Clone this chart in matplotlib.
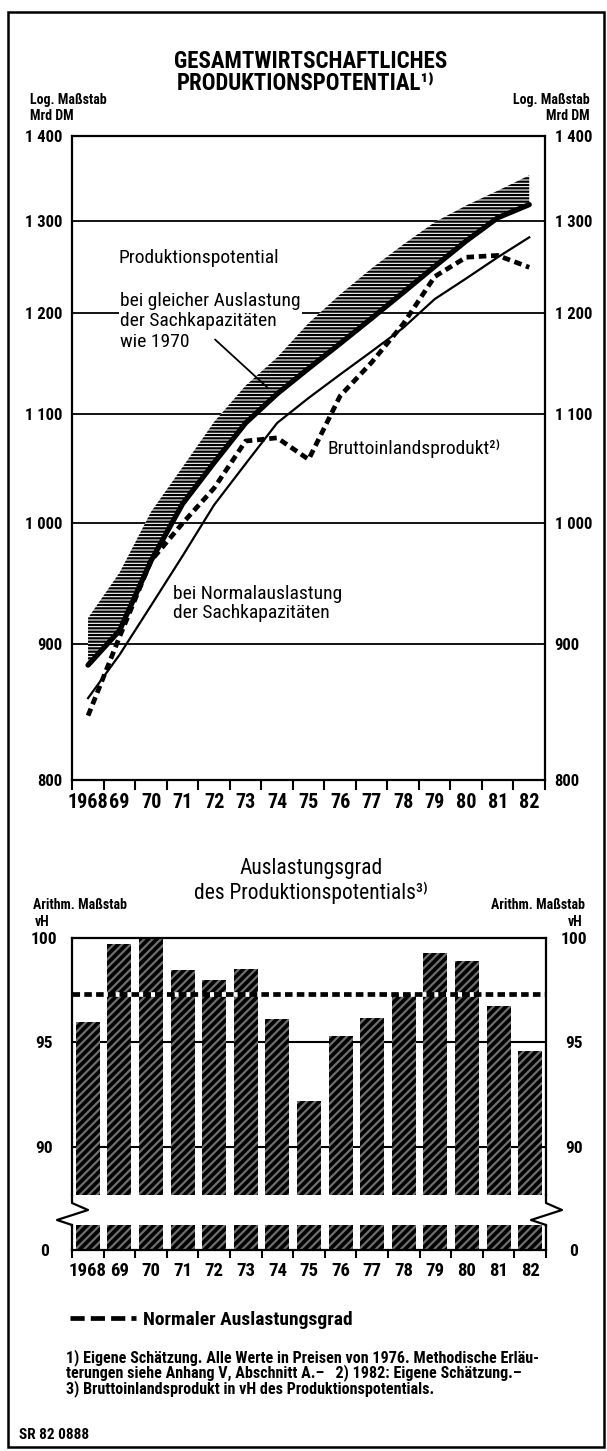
import numpy as np
import matplotlib.pyplot as plt
from matplotlib.lines import Line2D
from matplotlib.patches import Rectangle
from matplotlib.ticker import NullLocator, NullFormatter

plt.rcParams['font.family'] = ['Roboto Condensed', 'Archivo Narrow', 'PT Sans Narrow', 'DejaVu Sans']
plt.rcParams['hatch.linewidth'] = 1.6

# ---- data ----
years = ["1968", "69", "70", "71", "72", "73", "74", "75", "76", "77", "78", "79", "80", "81", "82"]

# Produktionspotential bei gleicher Auslastung wie 1970 (Mrd DM, thick line = lower edge of band)
pot_1970 = [884, 911, 968, 1017, 1054, 1091, 1119, 1144, 1169, 1195, 1222, 1250, 1278, 1304, 1319]
pot_1970_upper = [921, 958, 1010, 1050, 1092, 1127, 1155, 1190, 1220, 1248, 1274, 1299, 1318, 1335, 1353]
# Produktionspotential bei Normalauslastung
pot_normal = [859, 892, 931, 972, 1016, 1053, 1091, 1115, 1138, 1161, 1185, 1215, 1237, 1260, 1282]
# Bruttoinlandsprodukt
bip = [846, 906, 968, 1000, 1031, 1074, 1077, 1057, 1117, 1150, 1189, 1239, 1260, 1262, 1249]

# Auslastungsgrad in vH
auslastung = [96.0, 99.7, 100.0, 98.45, 98.0, 98.5, 96.1, 92.2, 95.3, 96.15, 97.3, 99.3, 98.9, 96.75, 94.6]
normal_grad = 97.3

top_ticks = [800, 900, 1000, 1100, 1200, 1300, 1400]
top_ticklabels = ["800", "900", "1 000", "1 100", "1 200", "1 300", "1 400"]
bar_ticks = [90, 95, 100]

W, H = 607, 1451
fig = plt.figure(figsize=(W / 100, H / 100), dpi=100)


def box(l, t, r, b):
    return [l / W, 1 - b / H, (r - l) / W, (b - t) / H]


def fpos(px, py):
    return px / W, 1 - py / H


x = np.arange(len(years))

# ================= top chart =================
ax1 = fig.add_axes(box(72.3, 136, 545, 780))
ax1.set_yscale('log')
ax1.set_xlim(-0.5, 14.5)
ax1.set_ylim(800, 1400)
for v in top_ticks[1:-1]:
    ax1.axhline(v, color='black', lw=1.3, zorder=1)

ax1.fill_between(x, pot_1970, pot_1970_upper, facecolor='white', edgecolor='black',
                 hatch='-----', lw=0, zorder=2)
ax1.plot(x, pot_1970, color='black', lw=3.8, solid_capstyle='round', zorder=3)
ax1.plot(x, pot_normal, color='black', lw=1.6, zorder=3)
ax1.plot(x, bip, color='black', lw=3.4, dashes=(1.6, 1.0), zorder=4)

ax1.set_yticks(top_ticks, labels=top_ticklabels)
ax1.yaxis.set_minor_locator(NullLocator())
ax1.yaxis.set_minor_formatter(NullFormatter())
ax1.tick_params(axis='y', length=0, labelright=True, labelsize=12, pad=7)
for lab in ax1.get_yticklabels():
    lab.set_fontweight('bold')

ax1.set_xticks(np.arange(-0.5, 15, 1))
ax1.set_xticklabels([])
ax1.set_xticks(x, minor=True)
ax1.set_xticklabels(years, minor=True, fontsize=14.5, fontweight='bold')
ax1.tick_params(axis='x', which='major', direction='out', length=7, width=1.5)
ax1.tick_params(axis='x', which='minor', length=0, pad=9)
for s in ax1.spines.values():
    s.set_linewidth(1.6)

ax1.text(0.097, 0.81, "Produktionspotential", transform=ax1.transAxes,
         fontsize=14, va='center', ha='left')
ax1.text(0.101, 0.712, "bei gleicher Auslastung\nder Sachkapazitäten\nwie 1970",
         transform=ax1.transAxes, fontsize=14, va='center', ha='left', linespacing=1.15,
         bbox=dict(facecolor='white', edgecolor='none', pad=1), zorder=1.5)
ax1.annotate('', xy=(0.412, 0.61), xytext=(0.302, 0.684), xycoords='axes fraction',
             arrowprops=dict(arrowstyle='-', lw=1.3, color='black', shrinkA=0, shrinkB=0),
             zorder=2.5)
ax1.text(0.539, 0.515, "Bruttoinlandsprodukt²⁾", transform=ax1.transAxes,
         fontsize=14, va='center', ha='left')
ax1.text(0.213, 0.274, "bei Normalauslastung\nder Sachkapazitäten", transform=ax1.transAxes,
         fontsize=14, va='center', ha='left', linespacing=1.1)

fig.text(*fpos(311, 62), "GESAMTWIRTSCHAFTLICHES", fontsize=16.5, fontweight='bold',
         ha='center', va='center')
fig.text(*fpos(306, 83), "PRODUKTIONSPOTENTIAL¹⁾", fontsize=16.5, fontweight='bold',
         ha='center', va='center')
fig.text(*fpos(30, 100), "Log. Maßstab", fontsize=10, fontweight='bold', ha='left', va='center')
fig.text(*fpos(30, 116), "Mrd DM", fontsize=10, fontweight='bold', ha='left', va='center')
fig.text(*fpos(590, 100), "Log. Maßstab", fontsize=10, fontweight='bold', ha='right', va='center')
fig.text(*fpos(590, 116), "Mrd DM", fontsize=10, fontweight='bold', ha='right', va='center')

# ================= bottom chart (broken axis) =================
ax2 = fig.add_axes(box(72, 938, 546, 1195))
ax3 = fig.add_axes(box(72, 1225, 546, 1250))
for ax in (ax2, ax3):
    ax.set_xlim(-0.5, 14.5)
    ax.bar(x, auslastung, width=0.76, color='black', zorder=2)
    ax.bar(x, auslastung, width=0.76, facecolor='none', edgecolor='#6e6e6e',
           hatch='////', lw=0, zorder=2)
    for s in ax.spines.values():
        s.set_linewidth(1.6)

ax2.set_ylim(87.7, 100)
for v in bar_ticks[:-1]:
    ax2.axhline(v, color='black', lw=1.5, zorder=1)
ax2.axhline(normal_grad, color='black', lw=3.4, dashes=(1.6, 0.9), gapcolor='white', zorder=3)
ax2.spines['bottom'].set_visible(False)
ax2.set_xticks([])
ax2.set_yticks(bar_ticks)
ax2.tick_params(axis='y', length=0, labelright=True, labelsize=12.5, pad=20)
for lab in ax2.get_yticklabels():
    lab.set_fontweight('bold')
    lab.set_horizontalalignment('center')

ax3.set_ylim(0, 1.2)
ax3.spines['top'].set_visible(False)
ax3.set_yticks([0])
ax3.tick_params(axis='y', length=0, labelright=True, labelsize=12.5, pad=20)
for lab in ax3.get_yticklabels():
    lab.set_fontweight('bold')
    lab.set_horizontalalignment('center')
ax3.set_xticks(np.arange(-0.5, 15, 1))
ax3.set_xticklabels([])
ax3.set_xticks(x, minor=True)
ax3.set_xticklabels(years, minor=True, fontsize=13.5, fontweight='bold')
ax3.tick_params(axis='x', which='major', direction='out', length=6, width=1.5)
ax3.tick_params(axis='x', which='minor', length=0, pad=9)

# zigzag break marks on both spines
for x0 in (72, 546):
    xs = [x0, x0, x0 + 16, x0 - 15, x0, x0]
    ys = [1195, 1203, 1210, 1220, 1225, 1226]
    fig.add_artist(Line2D([v / W for v in xs], [1 - v / H for v in ys], color='black', lw=1.6))

fig.text(*fpos(311, 868), "Auslastungsgrad", fontsize=15.5, ha='center', va='center')
fig.text(*fpos(311, 893), "des Produktionspotentials³⁾", fontsize=15.5, ha='center', va='center')
fig.text(*fpos(33, 905), "Arithm. Maßstab", fontsize=10, fontweight='bold', ha='left', va='center')
fig.text(*fpos(35, 922), "vH", fontsize=10, fontweight='bold', ha='left', va='center')
fig.text(*fpos(585, 905), "Arithm. Maßstab", fontsize=10, fontweight='bold', ha='right', va='center')
fig.text(*fpos(582, 922), "vH", fontsize=10, fontweight='bold', ha='right', va='center')

legend_line = Line2D([0], [0], color='black', lw=3.4, dashes=(3.0, 1.3))
fig.legend(handles=[legend_line], labels=["Normaler Auslastungsgrad"], loc='center left',
           bbox_to_anchor=fpos(52, 1320), frameon=False, handlelength=3.4, handletextpad=0.4,
           prop=dict(size=14, weight='bold'))

notes = ("1) Eigene Schätzung. Alle Werte in Preisen von 1976. Methodische Erläu-\n"
         "terungen siehe Anhang V, Abschnitt A.–   2) 1982: Eigene Schätzung.–\n"
         "3) Bruttoinlandsprodukt in vH des Produktionspotentials.")
fig.text(*fpos(66, 1349), notes, fontsize=11.6, fontweight='bold', ha='left', va='top',
         linespacing=0.88)
fig.text(*fpos(19, 1435), "SR 82 0888", fontsize=11, fontweight='bold', ha='left', va='center')

fig.add_artist(Rectangle((8 / W, 1 - 1447 / H), 596 / W, 1435 / H, transform=fig.transFigure,
                         fill=False, edgecolor='black', lw=1.8))

fig.savefig('out.png', dpi=100)
